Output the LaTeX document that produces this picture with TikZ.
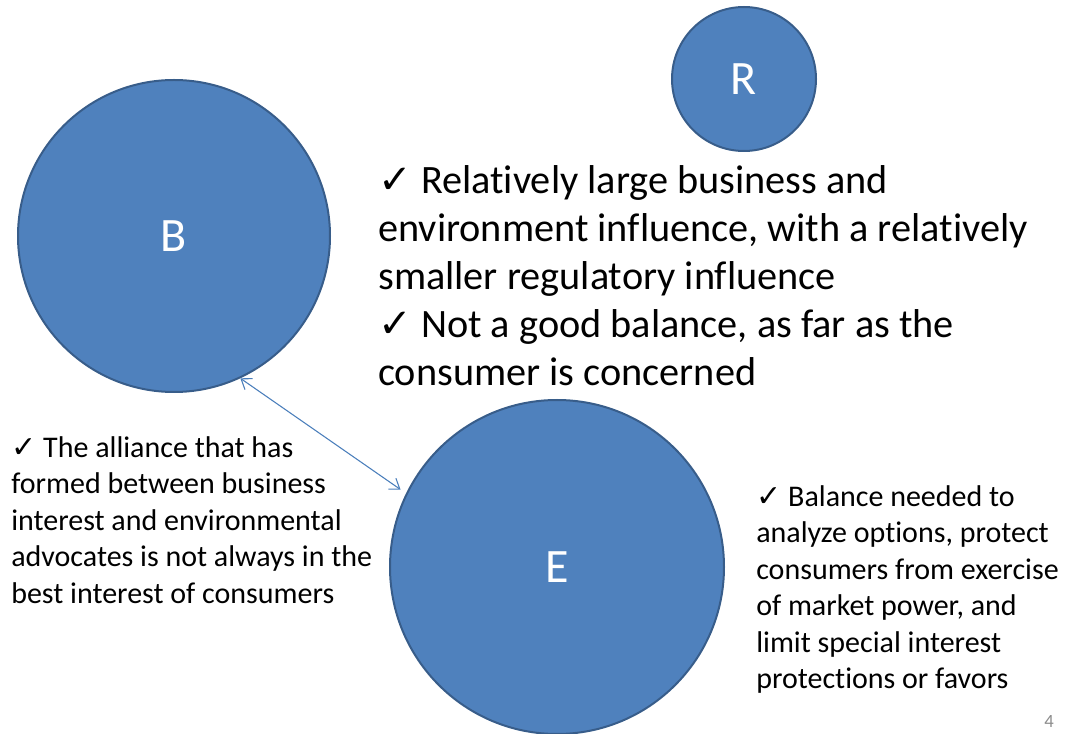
\documentclass[tikz,border=0pt]{standalone}
\usepackage{fontspec}
\setmainfont{Carlito}[Ligatures={NoCommon,NoContextual}]
\newfontfamily\symfont{DejaVu Sans}
\usetikzlibrary{arrows.meta}
\definecolor{ballfill}{HTML}{4F81BD}
\definecolor{ballline}{HTML}{385D8A}
\definecolor{linkblue}{HTML}{4A7EBB}
\definecolor{pagegray}{HTML}{8C8C8C}
\newcommand{\tick}{{\symfont\char"2713}}
\tikzset{
  ball/.style={circle, fill=ballfill, draw=ballline, line width=1.5pt,
    text=white, font=\fontsize{36}{40}\selectfont, inner sep=0pt},
  bigtext/.style={anchor=north west, inner sep=0pt, align=left,
    font=\fontsize{30.2}{36}\selectfont},
  smalltext/.style={anchor=north west, inner sep=0pt, align=left,
    font=\fontsize{22.5}{27.4}\selectfont},
  sidetext/.style={anchor=north west, inner sep=0pt, align=left,
    font=\fontsize{22.5}{27.4}\selectfont},
  link/.style={draw=linkblue, line width=0.8pt,
    {Straight Barb[length=7pt,width=10pt]}-{Straight Barb[length=7pt,width=10pt]}}
}
\begin{document}
\begin{tikzpicture}[x=0.75pt, y=-0.75pt]
  \useasboundingbox (0,0) rectangle (1065,734);
  \clip (0,0) rectangle (1065,734);

  % the three players
  \node[ball, minimum size=108pt] (R) at (744,79) {R};
  \node[ball, minimum size=234pt] (B) at (174,236) {B};
  \node[ball, minimum size=250.5pt] (E) at (557,567) {E};

  % business--environment alliance
  \draw[link, shorten >=5pt] (B.-65) -- (E.154.5);

  % commentary
  \node[bigtext] (main) at (378,165) {\tick{} Relatively large business and\\
    environment influence, with a relatively\\
    smaller regulatory influence\\
    \tick{} Not a good balance, as far as the\\
    consumer is concerned};

  \node[smalltext] (left) at (11,436) {\tick{} The alliance that has\\
    formed between business\\
    interest and environmental\\
    advocates is not always in the\\
    best interest of consumers};

  \node[sidetext] (right) at (756,485) {\tick{} Balance needed to\\
    analyze options, protect\\
    consumers from exercise\\
    of market power, and\\
    limit special interest\\
    protections or favors};

  \node[text=pagegray, font=\fontsize{14}{16}\selectfont, anchor=base east,
    inner sep=0pt] (page) at (1054,727) {4};
\end{tikzpicture}
\end{document}
